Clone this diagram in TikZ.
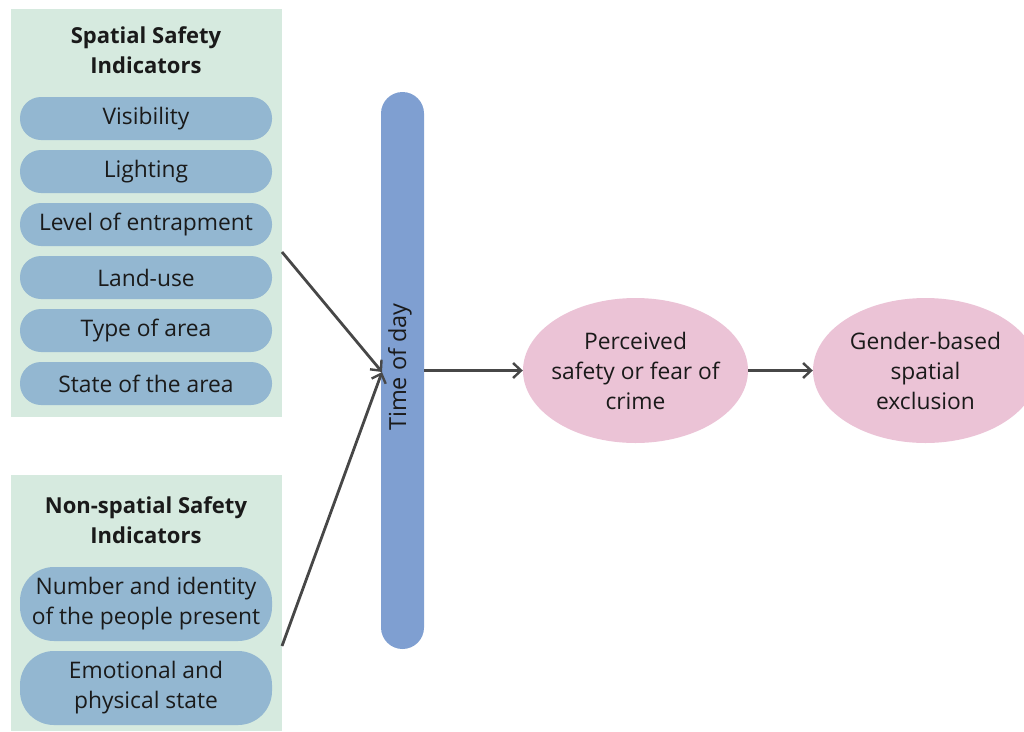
\documentclass[tikz,border=0pt]{standalone}
\usepackage{fontspec}
\setmainfont{Open Sans}
\usetikzlibrary{arrows.meta, positioning, shapes.geometric}
\definecolor{cpanel}{HTML}{D6EADF}
\definecolor{cpill}{HTML}{93B7D1}
\definecolor{cbar}{HTML}{7F9FD1}
\definecolor{cpink}{HTML}{EBC3D6}
\definecolor{carrow}{HTML}{474747}
\definecolor{ctext}{HTML}{1A1A1A}
\tikzset{
  every picture/.style={x=1pt, y=-1pt},
  panel/.style={fill=cpanel, minimum width=271pt, inner sep=0pt},
  head/.style={font=\fontsize{22}{30}\selectfont\bfseries, text=ctext, align=center},
  pill/.style={fill=cpill, rounded corners=#1, minimum width=252pt, inner sep=0pt,
    font=\fontsize{22.8}{30}\selectfont, text=ctext, align=center},
  pill/.default=21pt,
  blob/.style={ellipse, fill=cpink, minimum width=225pt, minimum height=145pt, inner sep=-30pt,
    font=\fontsize{22.8}{30}\selectfont, text=ctext, align=center},
  arrow/.style={-{Straight Barb[length=8pt, width=15pt, line width=2.4pt]}, draw=carrow, line width=2.8pt},
}

\begin{document}
\begin{tikzpicture}
  \useasboundingbox (0,0) rectangle (1024,731);
  % ---------------- spatial indicators
  \node[panel, minimum height=408pt] (spatial) at (146.5,213) {};
  \node[head] (spatialhead) at (146,50) {Spatial Safety\\Indicators};
  \node[pill, minimum height=43pt] (vis) at (146,118.5) {Visibility};
  \node[pill, minimum height=43pt] (light) at (146,171.5) {Lighting};
  \node[pill, minimum height=43pt] (entrap) at (146,224.5) {Level of entrapment};
  \node[pill, minimum height=43pt] (landuse) at (146,277.5) {Land-use};
  \node[pill, minimum height=43pt] (areatype) at (146,330.5) {Type of area};
  \node[pill, minimum height=43pt] (areastate) at (146,383.5) {State of the area};
  % ---------------- non-spatial indicators
  \node[panel, minimum height=256pt] (nonspatial) at (146.5,603) {};
  \node[head] (nonspatialhead) at (146,520) {Non-spatial Safety\\Indicators};
  \node[pill=34pt, minimum height=74pt] (people) at (146,604) {Number and identity\\of the people present};
  \node[pill=34pt, minimum height=74pt] (emotion) at (146,688) {Emotional and\\physical state};
  % ---------------- time of day and outcomes
  \node[fill=cbar, rounded corners=21.5pt, minimum width=43pt, minimum height=557pt, inner sep=0pt] (tod) at (402.5,370.5) {};
  \node[rotate=90, font=\fontsize{23.5}{28}\selectfont, text=ctext] (todlabel) at (400,367) {Time of day};
  \node[blob] (fear) at (635.5,370.5) {Perceived\\safety or fear of\\crime};
  \node[blob] (exclusion) at (925.5,370.5) {Gender-based\\spatial\\exclusion};
  % ---------------- connectors
  \coordinate (spatialout) at (282,252);
  \coordinate (nonspatialout) at (282,646);
  \coordinate (todin) at (382,372);
  \draw[arrow] (spatialout) -- (todin);
  \draw[arrow] (nonspatialout) -- (todin);
  \draw[arrow] (tod.east) -- (fear.west);
  \draw[arrow] (fear.east) -- (exclusion.west);
\end{tikzpicture}
\end{document}
